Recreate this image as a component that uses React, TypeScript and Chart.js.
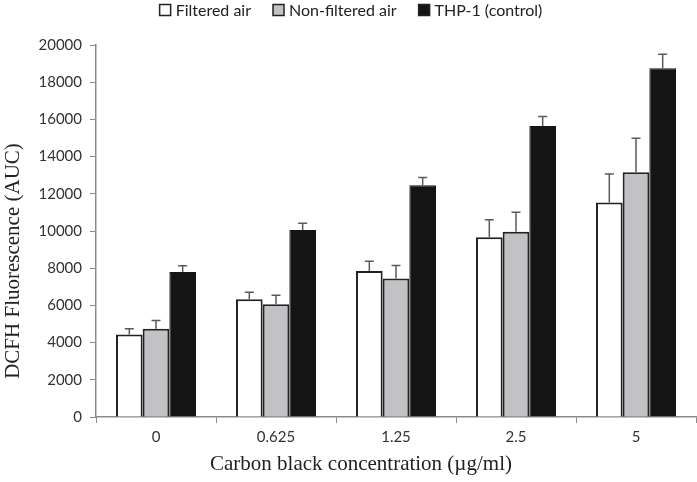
import React, { useEffect, useRef } from "react";
import { Chart, registerables } from "chart.js";

Chart.register(...registerables);

const categories = ["0", "0.625", "1.25", "2.5", "5"];
const filtered = [4430, 6330, 7850, 9670, 11530];
const filteredErr = [320, 380, 520, 930, 1530];
const nonFiltered = [4740, 6060, 7450, 9960, 13160];
const nonFilteredErr = [450, 480, 700, 1050, 1820];
const thp1 = [7790, 10060, 12460, 15640, 18750];
const thp1Err = [340, 360, 420, 520, 750];
const errors = [filteredErr, nonFilteredErr, thp1Err];
const xTitle = "Carbon black concentration (µg/ml)";
const yTitle = "DCFH Fluorescence (AUC)";

const errorBarPlugin = {
  id: "errorBars",
  afterDatasetsDraw(chart: any) {
    const ctx = chart.ctx;
    const yScale = chart.scales.y;
    ctx.save();
    ctx.strokeStyle = "#5a5a5a";
    ctx.lineWidth = 1.5;
    chart.data.datasets.forEach((ds: any, di: number) => {
      const meta = chart.getDatasetMeta(di);
      meta.data.forEach((bar: any, i: number) => {
        const v = ds.data[i];
        const e = errors[di][i];
        const yTop = yScale.getPixelForValue(v + e);
        const yBar = yScale.getPixelForValue(v);
        const x = bar.x;
        ctx.beginPath();
        ctx.moveTo(x, yBar);
        ctx.lineTo(x, yTop);
        ctx.moveTo(x - 4.5, yTop);
        ctx.lineTo(x + 4.5, yTop);
        ctx.stroke();
      });
    });
    ctx.restore();
  },
};

const legendAndTitlesPlugin = {
  id: "legendAndTitles",
  afterDraw(chart: any) {
    const ctx = chart.ctx;
    ctx.save();
    // legend
    ctx.font = "16px Lato";
    ctx.textBaseline = "middle";
    ctx.textAlign = "left";
    const box = 11;
    const gapText = 5;
    const gapItem = 22;
    const items = chart.data.datasets.map((ds: any) => ({
      label: ds.label,
      fill: ds.backgroundColor,
      w: ctx.measureText(ds.label).width,
    }));
    let total = 0;
    items.forEach((it: any, i: number) => {
      total += box + gapText + it.w + (i < items.length - 1 ? gapItem : 0);
    });
    let x = 351 - total / 2;
    const cy = 10;
    items.forEach((it: any) => {
      ctx.fillStyle = it.fill;
      ctx.fillRect(x, cy - box / 2, box, box);
      ctx.strokeStyle = "#222";
      ctx.lineWidth = 1.5;
      ctx.strokeRect(x, cy - box / 2, box, box);
      ctx.fillStyle = "#222";
      ctx.fillText(it.label, x + box + gapText, cy + 1);
      x += box + gapText + it.w + gapItem;
    });
    // axis titles
    ctx.fillStyle = "#222";
    ctx.font = "21px 'Liberation Serif'";
    ctx.textAlign = "center";
    ctx.textBaseline = "alphabetic";
    ctx.fillText(xTitle, 361, 470);
    ctx.font = "21px 'Liberation Serif'";
    ctx.translate(19, 261);
    ctx.rotate(-Math.PI / 2);
    ctx.fillText(yTitle, 0, 0);
    ctx.restore();
  },
};

export default function App() {
  const ref = useRef<HTMLCanvasElement>(null);
  useEffect(() => {
    if (!ref.current) return;
    const chart = new Chart(ref.current, {
      type: "bar",
      data: {
        labels: categories,
        datasets: [
          {
            label: "Filtered air",
            data: filtered,
            backgroundColor: "#ffffff",
            borderColor: "#222222",
            borderWidth: 2,
          },
          {
            label: "Non-filtered air",
            data: nonFiltered,
            backgroundColor: "#c2c2c4",
            borderColor: "#222222",
            borderWidth: 2,
          },
          {
            label: "THP-1 (control)",
            data: thp1,
            backgroundColor: "#141414",
            borderColor: "#141414",
            borderWidth: 1,
          },
        ],
      },
      options: {
        responsive: false,
        animation: false,
        datasets: {
          bar: { categoryPercentage: 0.667, barPercentage: 1.0 },
        },
        layout: { padding: { left: 0, right: 1, top: 45, bottom: 0 } },
        plugins: {
          tooltip: { enabled: false },
          legend: { display: false },
        },
        scales: {
          x: {
            afterFit: (s: any) => {
              s.height = 65;
            },
            grid: {
              display: true,
              drawOnChartArea: false,
              color: "#8a8a8a",
              tickLength: 6,
              offset: true,
            },
            border: { color: "#8a8a8a", width: 1.5 },
            ticks: {
              color: "#333",
              font: { family: "Lato", size: 15 },
              padding: 5,
            },
          },
          y: {
            min: 0,
            max: 20000,
            afterFit: (s: any) => {
              s.width = 96;
            },
            ticks: {
              stepSize: 2000,
              color: "#333",
              font: { family: "Lato", size: 15 },
              padding: 8,
              callback: (v: any) => String(v),
            },
            grid: {
              display: true,
              drawOnChartArea: false,
              color: "#8a8a8a",
              tickLength: 6,
            },
            border: { color: "#8a8a8a", width: 1.5 },
          },
        },
      },
      plugins: [errorBarPlugin, legendAndTitlesPlugin],
    });
    return () => chart.destroy();
  }, []);
  return (
    <div style={{ position: "fixed", left: 0, top: 0, width: 697, height: 482, background: "#fff" }}>
      <canvas ref={ref} width={697} height={482} style={{ display: "block" }} />
    </div>
  );
}
